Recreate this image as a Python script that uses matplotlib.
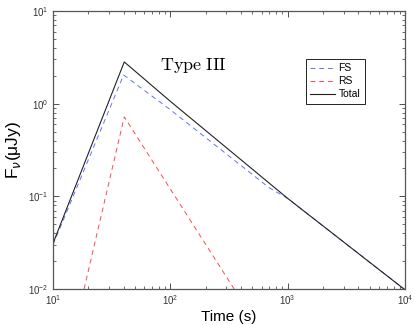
import matplotlib

matplotlib.use("Agg")
import matplotlib.pyplot as plt
from matplotlib.ticker import LogLocator, NullFormatter

plt.rcParams["font.family"] = ["Liberation Sans", "DejaVu Sans"]
plt.rcParams["mathtext.fontset"] = "cm"

# light curve pieces (time in s, flux in uJy)
fs_t = [10, 40, 100, 700, 1000, 10000]
fs_f = [0.030, 2.04, 0.86, 0.123, 0.095, 0.0098]

rs_t = [18.4, 40.5, 350]
rs_f = [0.01, 0.72, 0.01]

tot_t = [10, 40.5, 100, 1000, 10000]
tot_f = [0.031, 2.82, 1.06, 0.095, 0.0098]

fig = plt.figure(figsize=(4.15, 3.25), dpi=100, facecolor="white")
ax = fig.add_axes([0.1277, 0.1108, 0.8482, 0.8554])

ax.plot(fs_t, fs_f, ls=(0, (5, 4)), color="#5f70ff", lw=0.7, label="FS")
ax.plot(rs_t, rs_f, ls=(0, (5, 4)), color="#ff4a4a", lw=0.7, label="RS")
ax.plot(tot_t, tot_f, color="#222222", lw=0.8, label="Total")

ax.set_xscale("log")
ax.set_yscale("log")
ax.set_xlim(10, 1e4)
ax.set_ylim(1e-2, 10)

ax.xaxis.set_major_locator(LogLocator(base=10, numticks=10))
ax.yaxis.set_major_locator(LogLocator(base=10, numticks=10))
ax.xaxis.set_minor_locator(LogLocator(base=10, subs=range(2, 10), numticks=20))
ax.yaxis.set_minor_locator(LogLocator(base=10, subs=range(2, 10), numticks=20))
ax.xaxis.set_minor_formatter(NullFormatter())
ax.yaxis.set_minor_formatter(NullFormatter())

ax.tick_params(which="both", direction="in", top=True, right=True,
               labelsize=7, colors="#333333", pad=3)
ax.tick_params(which="major", length=4, width=0.6)
ax.tick_params(which="minor", length=2, width=0.5)
for spine in ax.spines.values():
    spine.set_color("#555555")
    spine.set_linewidth(0.9)
for lbl in ax.get_xticklabels() + ax.get_yticklabels():
    lbl.set_math_fontfamily("dejavusans")

ax.set_xlabel("Time (s)", fontsize=11, labelpad=2)
ylab = ax.set_ylabel(r"F$_\nu$(μJy)", fontsize=12.5, labelpad=4)
ylab.set_math_fontfamily("dejavusans")

ax.text(158, 2.6, r"$\mathrm{Type\ III}$", fontsize=13, ha="center", va="center")

leg = ax.legend(loc="upper right", bbox_to_anchor=(0.885, 0.827), fontsize=7.5,
                handlelength=2.4, handletextpad=0.35, borderpad=0.4,
                borderaxespad=0, labelspacing=0.3, fancybox=False, framealpha=1)
leg.get_frame().set_edgecolor("#222222")
leg.get_frame().set_linewidth(0.7)

fig.savefig("out.png", dpi=100, facecolor=fig.get_facecolor())
plt.close(fig)
